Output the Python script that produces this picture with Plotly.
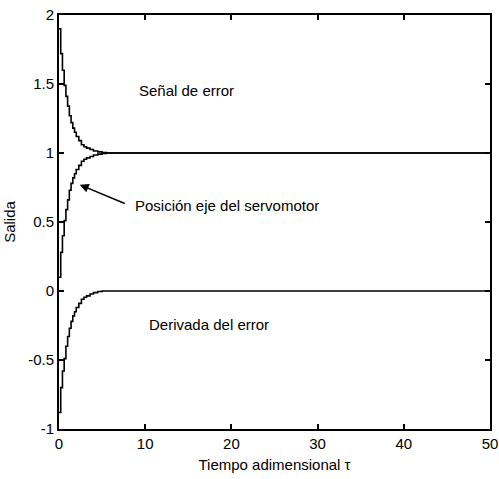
import plotly.graph_objects as go

tau = [0, 0.2, 0.4, 0.6, 0.8, 1.0, 1.2, 1.4, 1.6, 1.8, 2.0, 2.3, 2.6, 2.9, 3.2, 3.6, 4.0, 4.5, 5.0, 5.5, 50]
senal_error = [1.90, 1.72, 1.60, 1.49, 1.41, 1.34, 1.27, 1.22, 1.18, 1.15, 1.12, 1.09, 1.06, 1.045, 1.035, 1.025, 1.015, 1.008, 1.004, 1.0, 1.0]
posicion = [0.10, 0.28, 0.40, 0.51, 0.59, 0.66, 0.73, 0.78, 0.82, 0.85, 0.88, 0.91, 0.94, 0.955, 0.965, 0.975, 0.985, 0.992, 0.996, 1.0, 1.0]
derivada = [-0.88, -0.70, -0.58, -0.49, -0.40, -0.33, -0.27, -0.22, -0.18, -0.15, -0.12, -0.09, -0.06, -0.045, -0.035, -0.022, -0.012, -0.004, 0.0, 0.0, 0.0]

x_ticks = [0, 10, 20, 30, 40, 50]
y_ticks = [-1, -0.5, 0, 0.5, 1, 1.5, 2]
y_tick_text = ["-1", "-0.5", "0", "0.5", "1", "1.5", "2"]

FONT = "Liberation Sans, Arial, sans-serif"

fig = go.Figure()
for ys in (senal_error, posicion, derivada):
    fig.add_trace(go.Scatter(x=tau, y=ys, mode="lines", line=dict(color="black", width=1.6, shape="hv"),
                             showlegend=False, hoverinfo="skip"))

fig.add_annotation(x=9.1, y=1.455, text="Señal de error", showarrow=False, xanchor="left", yanchor="middle",
                   font=dict(family=FONT, size=15, color="black"))
fig.add_annotation(x=8.6, y=0.62, text="Posición eje del servomotor", showarrow=False, xanchor="left", yanchor="middle",
                   font=dict(family=FONT, size=15, color="black"))
fig.add_annotation(x=2.4, y=0.77, ax=7.8, ay=0.63, axref="x", ayref="y", text="", showarrow=True,
                   arrowhead=2, arrowsize=1.2, arrowwidth=1.5, arrowcolor="black")
fig.add_annotation(x=10.2, y=-0.245, text="Derivada del error", showarrow=False, xanchor="left", yanchor="middle",
                   font=dict(family=FONT, size=15, color="black"))

axis_common = dict(showline=True, linecolor="black", linewidth=2, mirror="ticks", ticks="inside", ticklen=5,
                   tickwidth=1.5, tickcolor="black", showgrid=False, zeroline=False, automargin=False,
                   tickfont=dict(family=FONT, size=15, color="black"))

fig.update_xaxes(range=[0, 50], tickvals=x_ticks, ticktext=[str(v) for v in x_ticks],
                 title=dict(text="Tiempo adimensional τ", font=dict(family=FONT, size=15, color="black"), standoff=8),
                 **axis_common)
fig.update_yaxes(range=[-1, 2], tickvals=y_ticks, ticktext=y_tick_text,
                 title=dict(text="Salida", font=dict(family=FONT, size=15, color="black"), standoff=9),
                 **axis_common)

fig.update_layout(width=499, height=479, margin=dict(l=59, r=9, t=15, b=50),
                  plot_bgcolor="white", paper_bgcolor="white")

fig.write_html("out.html")
